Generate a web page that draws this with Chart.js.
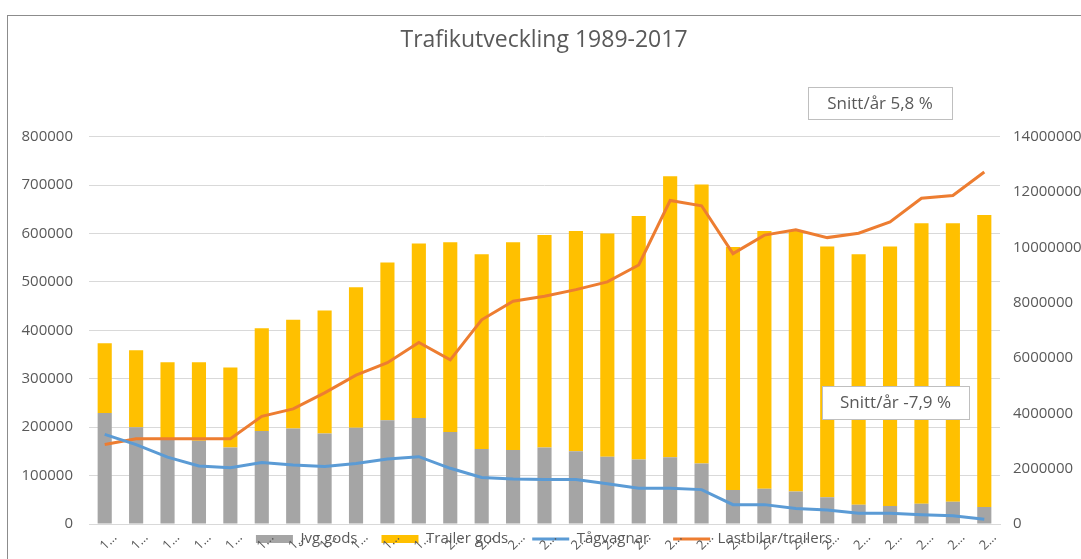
<!DOCTYPE html>
<html lang="sv">
<head>
    <meta charset="UTF-8">
    <title>Trafikutveckling 1989-2017</title>
    <script src="https://cdn.jsdelivr.net/npm/chart.js"></script>
    <style>
        body {
            margin: 0;
            background: #fff;
        }
        .wrap {
            position: relative;
            width: 1081px;
            height: 559px;
            overflow: hidden;
        }
        .frame {
            position: absolute;
            left: 7px;
            top: 15px;
            width: 1200px;
            height: 600px;
            border-left: 1px solid #8c8c8c;
            border-top: 1px solid #8c8c8c;
            pointer-events: none;
        }
    </style>
</head>
<body>
    <div class="wrap">
        <canvas id="myChart" width="1081" height="559"></canvas>
        <div class="frame"></div>
    </div>

    <script>
        // values
        const years = [1989, 1990, 1991, 1992, 1993, 1994, 1995, 1996, 1997, 1998,
                       1999, 2000, 2001, 2002, 2003, 2004, 2005, 2006, 2007, 2008,
                       2009, 2010, 2011, 2012, 2013, 2014, 2015, 2016, 2017];

        const jvgGods = [229000, 200000, 174000, 172000, 158000, 192000, 197000, 187000, 199000, 214000,
                         219000, 190000, 155000, 153000, 158000, 150000, 139000, 133000, 138000, 125000,
                         70000, 73000, 67000, 55000, 40000, 37000, 42000, 46000, 35000];

        const trailerGods = [144000, 159000, 160000, 162000, 165000, 212000, 225000, 254000, 290000, 326000,
                             360000, 392000, 402000, 429000, 439000, 455000, 461000, 503000, 580000, 576000,
                             502000, 532000, 538000, 518000, 517000, 536000, 579000, 575000, 603000];

        const tagvagnar = [185000, 164000, 138000, 120000, 116000, 127000, 122000, 119000, 125000, 134000,
                           139000, 115000, 96000, 93000, 92000, 92000, 83000, 74000, 74000, 71000,
                           40000, 40000, 32000, 29000, 22000, 22000, 19000, 17000, 10000];

        const lastbilar = [2870000, 3080000, 3080000, 3080000, 3080000, 3890000, 4160000, 4740000, 5380000, 5830000,
                           6560000, 5930000, 7380000, 8050000, 8230000, 8470000, 8750000, 9360000, 11690000, 11500000,
                           9770000, 10440000, 10630000, 10350000, 10510000, 10920000, 11770000, 11870000, 12720000];

        const notes = [
            { text: 'Snitt/år 5,8 %', x: 808, y: 87, w: 144, h: 32 },
            { text: 'Snitt/år -7,9 %', x: 822, y: 386, w: 147, h: 33 }
        ];

        const grey = '#595959';
        const font = 'Open Sans';

        // text boxes drawn over the chart
        const notesPlugin = {
            id: 'notes',
            afterDraw(chart) {
                const ctx = chart.ctx;
                ctx.save();
                ctx.font = '17px "' + font + '"';
                ctx.textAlign = 'center';
                ctx.textBaseline = 'middle';
                notes.forEach(n => {
                    ctx.fillStyle = '#fff';
                    ctx.fillRect(n.x, n.y, n.w, n.h);
                    ctx.strokeStyle = '#bfbfbf';
                    ctx.lineWidth = 1;
                    ctx.strokeRect(n.x + 0.5, n.y + 0.5, n.w, n.h);
                    ctx.fillStyle = grey;
                    ctx.fillText(n.text, n.x + n.w / 2, n.y + n.h / 2 + 1);
                });
                ctx.restore();
            }
        };

        // legend sits over the x labels, like in Excel
        const legendPlacement = {
            id: 'legendPlacement',
            beforeLayout(chart) {
                const lg = chart.legend;
                if (!lg || lg._placed) return;
                lg._placed = true;
                const fit = lg.fit;
                lg.fit = function() {
                    fit.call(this);
                    this.height = 31;
                };
                const draw = lg.draw;
                lg.draw = function() {
                    const o = this.options.labels;
                    const size = o.font.size;
                    const top = this.top, bottom = this.bottom;
                    this.top = chart.chartArea.bottom + 15 - o.padding - size / 2;
                    this.bottom = this.top + 2 * o.padding + size;
                    draw.apply(this, arguments);
                    this.top = top;
                    this.bottom = bottom;
                };
            }
        };

        const ctx = document.getElementById('myChart').getContext('2d');
        new Chart(ctx, {
            type: 'bar',
            data: {
                labels: years,
                datasets: [{
                    label: 'Jvg gods',
                    data: jvgGods,
                    backgroundColor: '#a5a5a5',
                    pointStyle: 'rect',
                    stack: 'gods',
                    order: 1
                }, {
                    label: 'Trailer gods',
                    data: trailerGods,
                    backgroundColor: '#ffc000',
                    pointStyle: 'rect',
                    stack: 'gods',
                    order: 1
                }, {
                    type: 'line',
                    label: 'Tågvagnar',
                    data: tagvagnar,
                    borderColor: '#5b9bd5',
                    backgroundColor: '#5b9bd5',
                    borderWidth: 3,
                    pointRadius: 0,
                    pointStyle: 'line',
                    tension: 0,
                    stack: 'tag',
                    order: 0
                }, {
                    type: 'line',
                    label: 'Lastbilar/trailers',
                    data: lastbilar,
                    borderColor: '#ed7d31',
                    backgroundColor: '#ed7d31',
                    borderWidth: 3,
                    pointRadius: 0,
                    pointStyle: 'line',
                    tension: 0,
                    yAxisID: 'y1',
                    order: 0
                }]
            },
            options: {
                responsive: false,
                animation: false,
                layout: {
                    padding: { left: 7, right: 0, top: 0, bottom: 0 }
                },
                datasets: {
                    bar: {
                        barPercentage: 0.45,
                        categoryPercentage: 1
                    }
                },
                plugins: {
                    title: {
                        display: true,
                        text: 'Trafikutveckling 1989-2017',
                        color: grey,
                        font: { family: font, size: 23, weight: 'normal' },
                        padding: { top: 27, bottom: 82 }
                    },
                    legend: {
                        position: 'bottom',
                        labels: {
                            color: grey,
                            font: { family: font, size: 15 },
                            usePointStyle: true,
                            pointStyleWidth: 37,
                            boxHeight: 8,
                            padding: 24,
                            sort: (a, b) => a.datasetIndex - b.datasetIndex
                        }
                    },
                    tooltip: { enabled: false }
                },
                scales: {
                    x: {
                        stacked: true,
                        grid: { display: false, drawTicks: false },
                        border: { color: '#d9d9d9' },
                        ticks: {
                            color: grey,
                            font: { family: font, size: 13 },
                            minRotation: 45,
                            maxRotation: 45,
                            padding: 6,
                            labelOffset: 10,
                            autoSkip: false,
                            callback: function(value) {
                                return String(this.getLabelForValue(value)).charAt(0) + '…';
                            }
                        },
                        afterFit: (scale) => {
                            scale.height = 4;
                            scale.paddingLeft = 0;
                            scale.paddingRight = 0;
                            scale._computeLabelArea = () => null;
                        }
                    },
                    y: {
                        stacked: true,
                        min: 0,
                        max: 800000,
                        grid: { color: '#d9d9d9', drawTicks: false },
                        border: { display: false },
                        ticks: {
                            stepSize: 100000,
                            color: grey,
                            font: { family: font, size: 15 },
                            padding: 16,
                            callback: (v) => String(v)
                        },
                        afterFit: (scale) => { scale.width = 82; }
                    },
                    y1: {
                        position: 'right',
                        min: 0,
                        max: 14000000,
                        grid: { display: false, drawTicks: false },
                        border: { display: false },
                        ticks: {
                            stepSize: 2000000,
                            color: grey,
                            font: { family: font, size: 15 },
                            padding: 13,
                            callback: (v) => String(v)
                        },
                        afterFit: (scale) => { scale.width = 81; }
                    }
                }
            },
            plugins: [notesPlugin, legendPlacement]
        });
    </script>
</body>
</html>
